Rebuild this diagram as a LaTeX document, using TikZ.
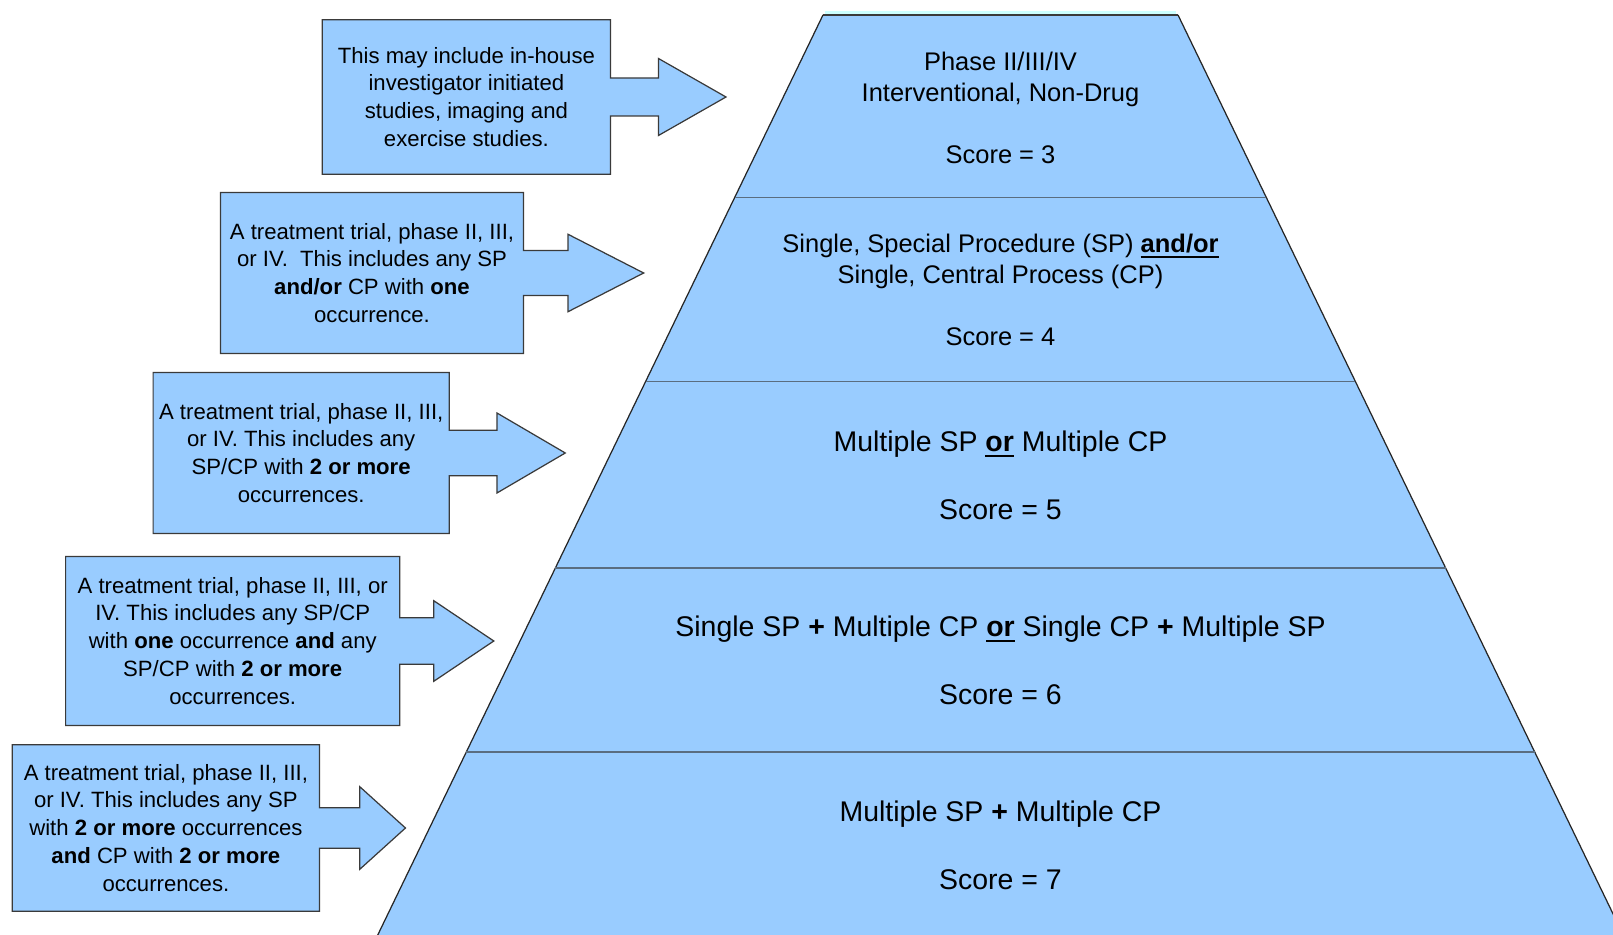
\documentclass[tikz,border=0pt]{standalone}
\usepackage{fontspec}
\setmainfont{Liberation Sans}
\usetikzlibrary{calc}

\definecolor{skyfill}{HTML}{99CCFF}
\definecolor{topcyan}{HTML}{CCFFFF}
\definecolor{boxline}{HTML}{3A3A3A}
\definecolor{rowline}{HTML}{5A6D80}

\newsavebox{\undlbox}
\newcommand{\undl}[1]{\sbox{\undlbox}{#1}\rlap{\rule[-3.2pt]{\wd\undlbox}{1.1pt}}\usebox{\undlbox}}

% #1 box, #2 half shaft, #3 shaft length, #4 half head, #5 head length
\newcommand{\blockarrow}[5]{%
  \fill[skyfill] ($(#1.east)+(-1,-#2)$) -- ++(#3+1,0) -- ++(0,#2-#4) -- ($(#1.east)+(#3+#5,0)$)
    -- ($(#1.east)+(#3,#4)$) -- ++(0,#2-#4) -- ($(#1.east)+(-1,#2)$) -- cycle;
  \draw[edge] (#1.north west) -- (#1.north east) -- ($(#1.east)+(0,-#2)$) -- ++(#3,0) -- ++(0,#2-#4)
    -- ($(#1.east)+(#3+#5,0)$) -- ($(#1.east)+(#3,#4)$) -- ++(0,#2-#4) -- ($(#1.east)+(0,#2)$)
    -- (#1.south east) -- (#1.south west) -- cycle;}

\begin{document}
\begin{tikzpicture}[x=0.02cm, y=-0.02cm,
    note/.style={fill=skyfill, inner sep=0pt, align=center, font=\fontsize{12.6}{15.9}\selectfont},
    edge/.style={draw=boxline, line width=0.7pt, line join=miter},
    tier/.style={align=center, font=\fontsize{14.5}{17.6}\selectfont},
    bigtier/.style={align=center, font=\fontsize{16.2}{19.3}\selectfont}]
    \useasboundingbox (0,0) rectangle (1613,935);
    \clip (0,0) rectangle (1613,935);

    \fill[skyfill] (823,15) -- (1178,15) -- (1628.1,945) -- (372.9,945) -- cycle;
    \fill[topcyan] (825,11.5) rectangle (1176,14.5);
    \draw[boxline, line width=0.6pt] (823,15) -- (1178,15);
    \draw[black!85, line width=0.7pt] (823,15) -- (372.9,945);
    \draw[black!85, line width=0.7pt] (1178,15) -- (1628.1,945);

    \draw[rowline, line width=1pt] (734.7,197.5) -- (1266.3,197.5);
    \draw[rowline, line width=1pt] (645.6,381.6) -- (1355.4,381.6);
    \draw[rowline, line width=1pt] (555.4,567.8) -- (1445.6,567.8);
    \draw[rowline, line width=1pt] (466.3,752) -- (1534.7,752);

    \node[tier] (r1) at (1000.5,108) {Phase II/III/IV\\Interventional, Non-Drug\\[17.6pt]Score = 3};
    \node[tier] (r2) at (1000.5,289.6) {Single, Special Procedure (SP) \undl{\textbf{and/or}}\\Single, Central Process (CP)\\[17.6pt]Score = 4};
    \node[bigtier] (r3) at (1000.5,475) {Multiple SP \undl{\textbf{or}} Multiple CP\\[19.3pt]Score = 5};
    \node[bigtier] (r4) at (1000.5,660.5) {Single SP \textbf{+} Multiple CP \undl{\textbf{or}} Single CP \textbf{+} Multiple SP\\[19.3pt]Score = 6};
    \node[bigtier] (r5) at (1000.5,845.6) {Multiple SP \textbf{+} Multiple CP\\[19.3pt]Score = 7};

    \node[note, minimum width=5.75cm, minimum height=3.08cm] (b1) at (466.4,97)
        {This may include in-house\\investigator initiated\\studies, imaging and\\exercise studies.};
    \blockarrow{b1}{19}{48}{38.5}{67.5}

    \node[note, minimum width=6.05cm, minimum height=3.21cm] (b2) at (372,273)
        {A treatment trial, phase II, III,\\or IV.\ \ This includes any SP\\\textbf{and/or} CP with \textbf{one}\\occurrence.};
    \blockarrow{b2}{22.5}{44.5}{38.7}{75.6}

    \node[note, minimum width=5.91cm, minimum height=3.21cm] (b3) at (301.2,453)
        {A treatment trial, phase II, III,\\or IV. This includes any\\SP/CP with \textbf{2 or more}\\occurrences.};
    \blockarrow{b3}{22.8}{47.7}{40}{68.3}

    \node[note, minimum width=6.67cm, minimum height=3.37cm] (b4) at (232.7,641)
        {A treatment trial, phase II, III, or\\IV. This includes any SP/CP\\with \textbf{one} occurrence \textbf{and} any\\SP/CP with \textbf{2 or more}\\occurrences.};
    \blockarrow{b4}{23.3}{34}{40.3}{60}

    \node[note, minimum width=6.13cm, minimum height=3.32cm] (b5) at (165.9,828)
        {A treatment trial, phase II, III,\\or IV. This includes any SP\\with \textbf{2 or more} occurrences\\\textbf{and} CP with \textbf{2 or more}\\occurrences.};
    \blockarrow{b5}{20.3}{40.3}{41.3}{45.7}
\end{tikzpicture}
\end{document}
